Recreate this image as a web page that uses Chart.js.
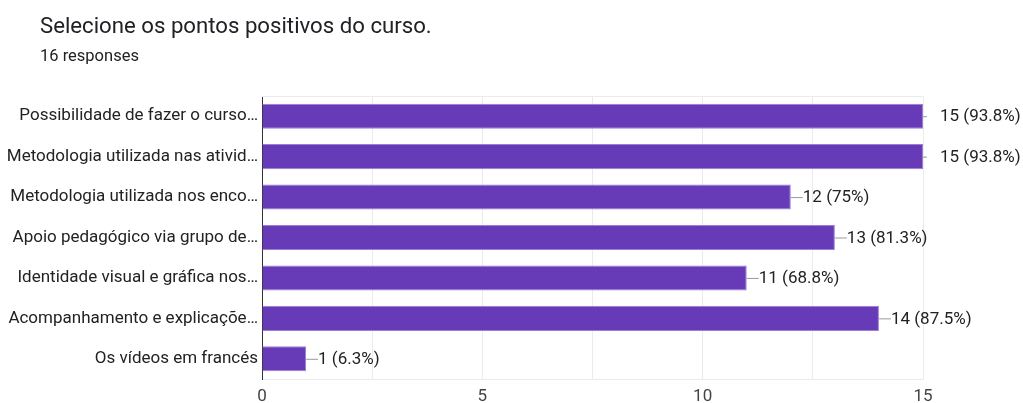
<!DOCTYPE html>
<html><head><meta charset="utf-8">
<script src="https://cdn.jsdelivr.net/npm/chart.js@4.4.1/dist/chart.umd.min.js"></script>
<style>
html,body{margin:0;padding:0;background:#fff;}
#wrap{position:relative;width:1023px;height:403px;}
#title{position:absolute;left:40px;top:11px;font:22.2px Roboto,Arial,sans-serif;color:#202124;line-height:28px;}
#sub{position:absolute;left:40px;top:46px;font:16.5px Roboto,Arial,sans-serif;color:#202124;line-height:20px;}
canvas{position:absolute;left:0;top:0;}
</style></head>
<body><div id="wrap">
<canvas id="c" width="1023" height="403"></canvas>
<div id="title">Selecione os pontos positivos do curso.</div>
<div id="sub">16 responses</div>
</div>
<script>
const categories = ["Possibilidade de fazer o curso…","Metodologia utilizada nas ativid…","Metodologia utilizada nos enco…","Apoio pedagógico via grupo de…","Identidade visual e gráfica nos…","Acompanhamento e explicaçõe…","Os vídeos em francés"];
const counts = [15,15,12,13,11,14,1];
const percents = ["93.8%","93.8%","75%","81.3%","68.8%","87.5%","6.3%"];
const xTicks = [0,5,10,15];
const FONT = 'Roboto, Arial, sans-serif';

const labelPlugin = {
  id:'lbl',
  afterDatasetsDraw(chart){
    const ctx=chart.ctx, meta=chart.getDatasetMeta(0), ca=chart.chartArea;
    ctx.save();
    ctx.strokeStyle='#ebebeb'; ctx.lineWidth=1;
    ctx.beginPath(); ctx.moveTo(ca.left,ca.top+0.5); ctx.lineTo(ca.right,ca.top+0.5); ctx.stroke();
    ctx.font='17px '+FONT;
    ctx.fillStyle='#222'; ctx.textBaseline='middle'; ctx.textAlign='left';
    meta.data.forEach((b,i)=>{
      const txt=counts[i]+' ('+percents[i]+')';
      let x=b.x, y=b.y;
      ctx.strokeStyle='#999';
      if (x>=ca.right-1){
        ctx.beginPath(); ctx.moveTo(x,y+0.5); ctx.lineTo(x+4,y+0.5); ctx.stroke();
        ctx.fillText(txt,x+17,y+1);
      } else {
        ctx.beginPath(); ctx.moveTo(x,y+0.5); ctx.lineTo(x+12,y+0.5); ctx.stroke();
        ctx.fillText(txt,x+12,y+1);
      }
    });
    ctx.restore();
  }
};

new Chart(document.getElementById('c'),{
  type:'bar',
  data:{labels:categories,datasets:[{data:counts,backgroundColor:'#673ab7',borderColor:'#9b7fd4',borderWidth:1,categoryPercentage:1,barPercentage:0.62}]},
  options:{
    indexAxis:'y',responsive:false,animation:false,
    layout:{padding:{top:96,right:100,left:0,bottom:0}},
    plugins:{legend:{display:false},tooltip:{enabled:false}},
    scales:{
      x:{min:0,max:15,
        afterBuildTicks(s){s.ticks=[0,2.5,5,7.5,10,12.5,15].map(v=>({value:v}));},
        afterFit(s){s.height=24;},
        grid:{color:'#ebebeb',drawTicks:false},
        border:{color:'#ebebeb'},
        ticks:{padding:8,color:'#444',font:{family:FONT,size:17},
          callback:(v)=>xTicks.includes(v)?String(v):''}
      },
      y:{
        afterFit(s){s.width=262;},
        grid:{display:false,drawTicks:false},
        border:{color:'#333',width:1},
        ticks:{padding:4,color:'#222',font:{family:FONT,size:17}}
      }
    }
  },
  plugins:[labelPlugin]
});
</script>
</body></html>
